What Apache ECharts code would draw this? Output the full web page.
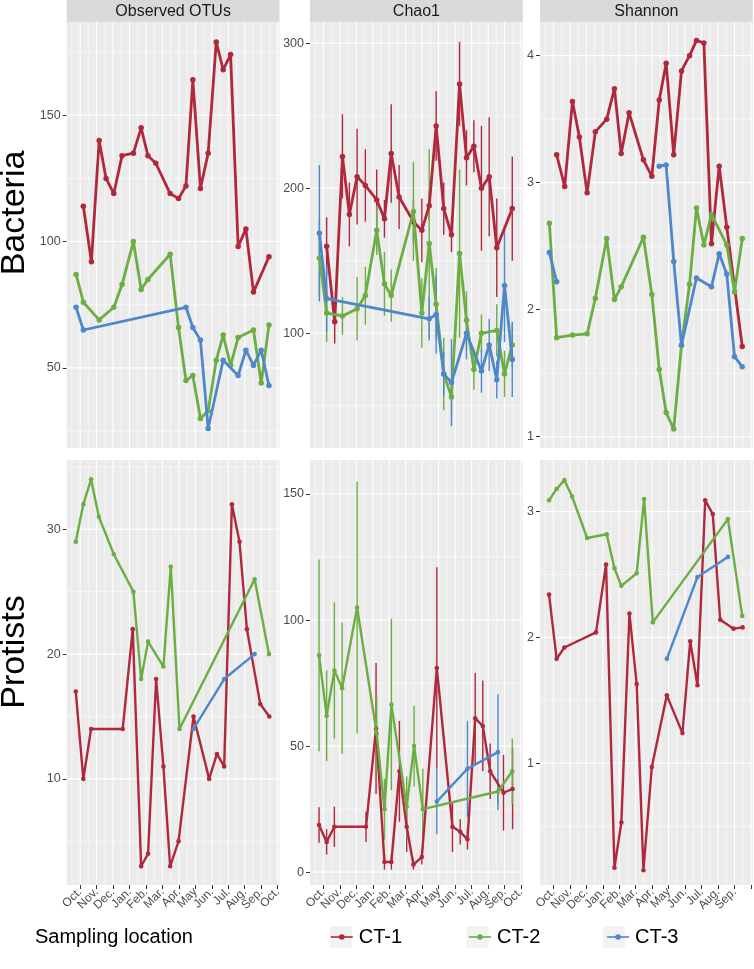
<!DOCTYPE html>
<html><head><meta charset="utf-8">
<script src="https://cdn.jsdelivr.net/npm/echarts@6/dist/echarts.min.js"></script>
<style>html,body{margin:0;padding:0;background:#fff}#c{width:754px;height:969px}</style>
</head><body><div id="c"></div>
<script>
// ---------- data (x = months since 1 Oct) ----------
const monthLabels = ['Oct.','Nov.','Dec.','Jan.','Feb.','Mar.','Apr.','May','Jun.','Jul.','Aug.','Sep.','Oct.'];
const monthTicks = [0,1,2,3,4,5,6,7,8,9,10,11,12];
const metricNames = ['Observed OTUs','Chao1','Shannon'];
const groupNames = ['Bacteria','Protists'];
const locationNames = ['CT-1','CT-2','CT-3'];

// Bacteria
const bacDatesCT1 = [0.20,0.69,1.16,1.58,2.05,2.55,3.24,3.71,4.12,4.60,5.47,5.98,6.43,6.85,7.31,7.78,8.27,8.69,9.14,9.60,10.07,10.53,11.47];
const bacOtuCT1   = [114,92,140,125,119,134,135,145,134,131,119,117,122,164,121,135,179,168,174,98,105,80,94];
const bacChaoCT1  = [160,108,222,182,208,202,192,179,224,194,177,171,188,243,186,168,272,221,229,200,208,159,186];
const bacChaoErrCT1 = [20,15,29,22,33,25,21,13,34,22,15,22,10,24,18,12,29,19,18,43,41,34,36];
const bacShanCT1  = [3.22,2.97,3.64,3.36,2.92,3.40,3.50,3.74,3.23,3.55,3.18,3.05,3.65,3.94,3.22,3.88,4.00,4.12,4.10,2.52,3.13,2.65,1.71];

const bacDatesCT2 = [-0.24,0.20,1.16,2.05,2.55,3.24,3.71,4.12,5.47,5.98,6.43,6.85,7.31,7.78,8.27,8.69,9.14,9.60,10.53,11.00,11.47];
const bacOtuCT2   = [87,76,69,74,83,100,81,85,95,66,45,47,30,33,53,63,51,62,65,44,67];
const bacChaoCT2  = [152,114,112,117,126,171,134,126,184,114,162,120,72,56,155,109,75,100,102,72,92];
const bacChaoErrCT2 = [27,20,13,22,20,17,22,18,34,24,65,25,25,13,58,20,14,13,18,16,15];
const bacShanCT2  = [2.68,1.78,1.80,1.81,2.09,2.56,2.08,2.18,2.57,2.12,1.53,1.19,1.06,1.72,2.20,2.80,2.51,2.75,2.51,2.14,2.56];

const bacDatesCT3 = [-0.24,0.20,6.43,6.85,7.31,7.78,8.69,9.60,10.07,10.53,11.00,11.47];
const bacOtuCT3   = [74,65,74,66,61,26,53,47,57,51,57,43];
const bacChaoCT3  = [169,124,110,113,72,66,100,74,92,68,133,82];
const bacChaoErrCT3 = [47,23,15,27,15,30,18,15,18,13,39,26];
const bacShanCT3  = [2.45,2.22,3.13,3.14,2.38,1.72,2.25,2.18,2.44,2.28,1.63,1.55];
const bacShanCT3BreakAfter = [1];   // line is interrupted after this index

// Protists
const proDatesCT1 = [-0.26,0.20,0.67,2.59,3.20,3.71,4.13,4.62,5.06,5.47,5.98,6.89,7.84,8.31,8.75,9.22,9.68,10.13,10.94,11.49];
const proOtuCT1   = [17,10,14,14,22,3,4,18,11,3,5,15,10,12,11,32,29,22,16,15];
const proChaoCT1  = [18.7,12,18,18,57,4,4,40,18,3,6,81,18,16,13,61,58,40,31.5,33];
const proChaoErrCT1 = [7,5,8,6,26,3,3,20,10,2,3,40,10,5,4,18,18,11,15,16];
const proShanCT1  = [2.34,1.83,1.92,2.04,2.58,0.17,0.53,2.19,1.63,0.15,0.97,1.54,1.24,1.97,1.62,3.09,2.98,2.14,2.07,2.08];

const proDatesCT2 = [-0.26,0.20,0.67,1.14,2.05,3.24,3.71,4.13,5.06,5.51,6.04,10.60,11.47];
const proOtuCT2   = [29,32,34,31,28,25,18,21,19,27,14,26,20];
const proChaoCT2  = [86,62,80,73,105,55,25,66.5,26,50,25,32,40];
const proChaoErrCT2 = [38,18,27,26,50,15,12,34,12,16,16,5,13];
const proShanCT2  = [3.09,3.18,3.25,3.12,2.79,2.82,2.55,2.41,2.51,3.10,2.12,2.94,2.17];

const proDatesCT3 = [6.89,8.75,10.60];
const proOtuCT3   = [14,18,20];
const proChaoCT3  = [28,41,47.6];
const proChaoErrCT3 = [13,19,23];
const proShanCT3  = [1.83,2.48,2.64];

// axis ranges & tick values per panel (row-major: bacteria OTU, Chao1, Shannon, protists OTU, Chao1, Shannon)
const xRange = [-0.81, 12.11];
const yRanges = [[18.3,186.9],[20.9,314.7],[0.911,4.265],[1.5,35.55],[-5.1,163.5],[0.033,3.41]];
const yMajor = [[50,100,150],[100,200,300],[1,2,3,4],[10,20,30],[0,50,100,150],[1,2,3]];
const yMinor = [[25,75,125,175],[50,150,250],[1.5,2.5,3.5],[5,15,25,35],[25,75,125],[0.5,1.5,2.5]];

// ---------- layout / style ----------
const COLORS = ['#B0283C','#6CAD44','#4E88CA'];
const COL_LEFT = [66.7, 310, 540], COL_W = 212.8;
const ROW_TOP = [22, 460], ROW_H = [426, 425];
const FONT = 'Liberation Sans, Arial, Helvetica, sans-serif';

const groupsData = [
  { dates:[bacDatesCT1,bacDatesCT2,bacDatesCT3],
    vals:[[bacOtuCT1,bacOtuCT2,bacOtuCT3],[bacChaoCT1,bacChaoCT2,bacChaoCT3],[bacShanCT1,bacShanCT2,bacShanCT3]],
    err:[bacChaoErrCT1,bacChaoErrCT2,bacChaoErrCT3],
    breaks:{'2-2': bacShanCT3BreakAfter},
    lw: 2.8, sym: 5.5 },
  { dates:[proDatesCT1,proDatesCT2,proDatesCT3],
    vals:[[proOtuCT1,proOtuCT2,proOtuCT3],[proChaoCT1,proChaoCT2,proChaoCT3],[proShanCT1,proShanCT2,proShanCT3]],
    err:[proChaoErrCT1,proChaoErrCT2,proChaoErrCT3],
    breaks:{},
    lw: 2.4, sym: 4.6 }
];

const grids=[], xAxes=[], yAxes=[], series=[], graphics=[];

for (let r=0;r<2;r++){
  for (let c=0;c<3;c++){
    const gi = r*3+c;
    grids.push({left:COL_LEFT[c], top:ROW_TOP[r], width:COL_W, height:ROW_H[r],
      show:true, backgroundColor:'#EBEBEB', borderWidth:0, containLabel:false, outerBoundsMode:'none'});
    // placeholders at both ends of the range (hidden) so that no real month label gets suppressed
    const labelVals = [xRange[0]].concat(c===2 ? monthTicks.slice(0,12) : monthTicks, [xRange[1]]);
    const tickVals = [xRange[0]].concat(monthTicks, [xRange[1]]);
    xAxes.push({type:'value', gridIndex:gi, min:xRange[0], max:xRange[1], position:'bottom',
      splitLine:{show:false}, axisLine:{show:false, onZero:false},
      axisTick:{show:r===1, inside:false, length:4, lineStyle:{color:'#333333', width:1}, customValues:tickVals},
      axisLabel:{show:r===1, customValues:labelVals, formatter:v=>Number.isInteger(v) ? monthLabels[v] : '',
        showMinLabel:false, showMaxLabel:false, hideOverlap:false,
        rotate:45, fontSize:12, color:'#4D4D4D', margin:5, fontFamily:FONT}
    });
    yAxes.push({type:'value', gridIndex:gi, min:yRanges[gi][0], max:yRanges[gi][1], position:'left',
      splitLine:{show:false}, axisLine:{show:false, onZero:false},
      axisTick:{show:true, inside:false, length:4, lineStyle:{color:'#333333', width:1}, customValues:yMajor[gi]},
      axisLabel:{customValues:yMajor[gi], formatter:v=>String(v), showMinLabel:true, showMaxLabel:true, hideOverlap:false,
        fontSize:12.5, color:'#4D4D4D', margin:6, fontFamily:FONT}
    });

    // panel grid lines (white), drawn through the axis scales
    const gl = [];
    const yMin = yRanges[gi][0];
    monthTicks.forEach(m=>gl.push([m, yMin, 0, 1]));
    monthTicks.forEach(m=>{ const h=m-0.5; if(h>xRange[0]) gl.push([h, yMin, 0, 0]); });
    yMajor[gi].forEach(v=>gl.push([xRange[0], v, 1, 1]));
    yMinor[gi].forEach(v=>gl.push([xRange[0], v, 1, 0]));
    series.push({type:'custom', xAxisIndex:gi, yAxisIndex:gi, z:1, silent:true, clip:false, data:gl,
      encode:{x:0,y:1},
      renderItem:(params, api)=>{
        const cs = params.coordSys;
        const p = api.coord([api.value(0), api.value(1)]);
        const w = api.value(3) ? 1.1 : 0.55;
        if (api.value(2)===0) return {type:'line', shape:{x1:p[0],y1:cs.y,x2:p[0],y2:cs.y+cs.height}, style:{stroke:'#FFFFFF', lineWidth:w}};
        return {type:'line', shape:{x1:cs.x,y1:p[1],x2:cs.x+cs.width,y2:p[1]}, style:{stroke:'#FFFFFF', lineWidth:w}};
      }});

    const G = groupsData[r];
    for (let k=0;k<3;k++){
      const dates = G.dates[k], vals = G.vals[c][k];
      // Chao1 error bars
      if (c===1){
        const errs = G.err[k];
        series.push({type:'custom', name:locationNames[k], xAxisIndex:gi, yAxisIndex:gi, z:2, silent:true,
          data: dates.map((d,i)=>[d, vals[i]-errs[i], vals[i]+errs[i]]),
          encode:{x:0, y:[1,2]},
          renderItem:(params, api)=>{
            const a = api.coord([api.value(0), api.value(1)]);
            const b = api.coord([api.value(0), api.value(2)]);
            return {type:'line', shape:{x1:a[0],y1:a[1],x2:b[0],y2:b[1]}, style:{stroke:COLORS[k], lineWidth:1.4}};
          }});
      }
      const brk = G.breaks[c+'-'+k] || [];
      const data = [];
      dates.forEach((d,i)=>{ data.push([d, vals[i]]); if (brk.includes(i)) data.push('-'); });
      series.push({type:'line', name:locationNames[k], xAxisIndex:gi, yAxisIndex:gi, data,
        symbol:'circle', symbolSize:G.sym, showSymbol:true, connectNulls:false,
        lineStyle:{width:G.lw, color:COLORS[k]}, itemStyle:{color:COLORS[k]}, z:3+k, silent:true});
    }
  }
  // row label
  graphics.push({type:'text', x:15, y:[213,652][r], rotation:Math.PI/2,
    style:{text:groupNames[r], font:'34px '+FONT, fill:'#000', align:'center', verticalAlign:'middle'}});
}
// column strips
for (let c=0;c<3;c++){
  graphics.push({type:'rect', shape:{x:COL_LEFT[c], y:0, width:COL_W, height:22}, style:{fill:'#D9D9D9'}});
  graphics.push({type:'text', x:COL_LEFT[c]+COL_W/2, y:12, style:{text:metricNames[c], font:'16px '+FONT, fill:'#1A1A1A', align:'center', verticalAlign:'middle'}});
}
// legend title & key backgrounds
graphics.push({type:'text', x:35, y:937, style:{text:'Sampling location', font:'20px '+FONT, fill:'#000', align:'left', verticalAlign:'middle'}});
[330, 466.5, 603].forEach(x=>graphics.push({type:'rect', shape:{x:x, y:926, width:22, height:22}, style:{fill:'#F2F2F2'}}));

const chart = echarts.init(document.getElementById('c'), null, {renderer:'canvas'});
chart.setOption({
  animation:false,
  backgroundColor:'#FFFFFF',
  textStyle:{fontFamily:FONT},
  grid:grids, xAxis:xAxes, yAxis:yAxes, series,
  legend:{data:locationNames, left:330, top:927, padding:0, itemWidth:22, itemHeight:7, itemGap:66,
    textStyle:{fontSize:20, color:'#000', fontFamily:FONT, padding:[0,0,0,1]},
    lineStyle:{width:1.6}, selectedMode:false, z:10},
  graphic:{elements:graphics}
});
</script></body></html>
